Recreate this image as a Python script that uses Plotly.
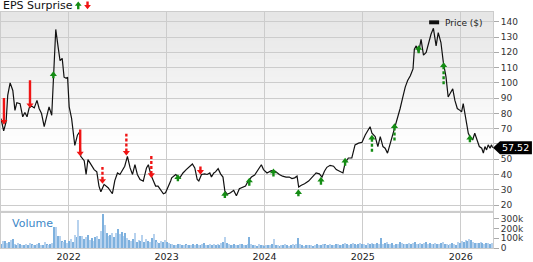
import plotly.graph_objects as go
import pandas as pd

# ---------------- data ----------------
price_dates = [
    "2021-04-24","2021-05-04","2021-05-13","2021-05-19","2021-05-28","2021-06-07","2021-06-15","2021-06-22",
    "2021-07-04","2021-07-14","2021-07-22","2021-07-30","2021-08-07","2021-08-16","2021-08-26","2021-09-05",
    "2021-09-13","2021-09-22","2021-10-02","2021-10-12","2021-10-20","2021-10-30","2021-11-06","2021-11-14",
    "2021-11-23","2021-11-30","2021-12-08","2021-12-15","2021-12-23","2021-12-28","2022-01-03","2022-01-12",
    "2022-01-24","2022-02-03","2022-02-12","2022-02-15","2022-02-28","2022-03-07","2022-03-14","2022-03-27",
    "2022-04-06","2022-04-16","2022-04-24","2022-05-01","2022-05-13","2022-05-28","2022-06-13","2022-06-22",
    "2022-07-02","2022-07-11","2022-07-20","2022-07-29","2022-08-08","2022-08-18","2022-08-27","2022-09-05",
    "2022-09-14","2022-09-24","2022-10-06","2022-10-18","2022-10-25","2022-11-03","2022-11-13","2022-11-21",
    "2022-11-30","2022-12-10","2022-12-20","2022-12-28","2023-01-06","2023-01-16","2023-01-20","2023-02-04",
    "2023-02-19","2023-03-03","2023-03-15","2023-03-28","2023-04-07","2023-04-16","2023-04-25","2023-05-01",
    "2023-05-11","2023-05-23","2023-06-01","2023-06-11","2023-06-17","2023-06-26","2023-07-02","2023-07-12",
    "2023-07-21","2023-07-30","2023-08-06","2023-08-15","2023-08-27","2023-09-08","2023-09-18","2023-09-29",
    "2023-10-11","2023-10-22","2023-11-01","2023-11-13","2023-11-25","2023-12-07","2023-12-20","2023-12-28",
    "2024-01-10","2024-01-26","2024-02-10","2024-02-25","2024-03-08","2024-03-21","2024-04-02","2024-04-12",
    "2024-04-22","2024-05-01","2024-05-07","2024-05-17","2024-05-29","2024-06-13","2024-06-26","2024-07-11",
    "2024-07-23","2024-08-02","2024-08-11","2024-08-20","2024-09-01","2024-09-14","2024-09-24","2024-10-06",
    "2024-10-19","2024-10-27","2024-11-08","2024-11-21","2024-12-03","2024-12-16","2024-12-29","2025-01-10",
    "2025-01-22","2025-01-28","2025-02-04","2025-02-16","2025-02-26","2025-03-07","2025-03-17","2025-03-25",
    "2025-04-03","2025-04-10","2025-04-19","2025-04-28","2025-05-08","2025-05-20","2025-05-30","2025-06-08",
    "2025-06-17","2025-06-27","2025-07-07","2025-07-12","2025-07-19","2025-07-28","2025-08-06","2025-08-15",
    "2025-08-25","2025-09-03","2025-09-12","2025-09-21","2025-10-01","2025-10-09","2025-10-19","2025-10-28",
    "2025-11-07","2025-11-15","2025-11-24","2025-12-02","2025-12-10","2025-12-19","2025-12-29","2026-01-04",
    "2026-01-10","2026-01-17","2026-01-23","2026-01-29","2026-02-04","2026-02-14","2026-02-22","2026-03-01",
    "2026-03-11","2026-03-20","2026-03-26","2026-04-01","2026-04-07","2026-04-13","2026-04-20","2026-04-25",
    "2026-04-30",
]
price_values = [
    76.6,68.5,74.5,91.8,100,95,82,87,
    86.4,77.8,80.6,77.8,83.6,84.9,83.6,88.5,
    83.2,79.9,71.3,78.8,84.3,78.8,102.6,135,
    123.2,114.5,116,103.7,103,103.7,84.3,76.7,
    59,65.9,68,51.9,49,40,49.7,46.4,
    43.2,41.7,32.4,28.7,33.5,31.3,27.4,36,
    41,40,42.5,45.4,51.9,44.3,40,46.4,
    40,36.7,35.7,44.3,46.4,40,35.7,32.4,
    32.4,29.6,27.4,28,31.3,35.7,37.8,40,
    37.8,41,43.2,45.4,46.9,44.3,36.7,35.7,
    40,40.4,40,41,38.4,41,41.7,43.8,
    40.4,38.3,29.1,27,28,29.6,26,30.7,
    31.8,32.4,35.7,38.3,39.6,43.2,46.4,43.2,
    41,42.5,42.1,40,38.9,38.3,38.3,37.3,
    37.8,38.9,31.8,33,33.9,35.7,38.3,41,
    40.4,38.3,42.1,44.7,46,45.4,43.2,42.1,
    41,47.5,50.8,50.8,59.4,60.5,61.1,65.9,
    69.1,71.3,67,64.8,58.3,64.8,58.3,57.2,
    54,58.3,63.7,70.2,76.7,83.2,90.7,97.2,
    101.5,104.7,109.1,122,124.2,119.9,128.5,118.2,
    119.9,126.4,131.8,135.7,124.2,132.9,126.4,113.4,
    103.7,90.7,94,96.1,88.5,83.2,82,81,
    86.4,79.9,72.3,67,64.8,62.6,67,63.7,
    58.3,57.2,54,58.3,56.1,59.4,57.2,59.4,
    57.52,
]
last_price = 57.52

volume_start = "2021-04-26"   # weekly bars
volume_k = [
    40,70,75,50,60,80,95,45,35,50,
    40,30,35,45,30,55,40,30,35,40,
    50,35,30,60,40,35,45,50,
    220,215,
    125,120,75,60,85,55,
    70,90,60,130,110,
    290,120,
    120,90,110,130,80,100,70,110,120,95,
    180,345,240,150,120,
    130,150,110,160,200,140,170,120,150,100,
    80,70,90,150,60,80,70,130,60,90,70,60,100,140,80,60,50,70,60,80,
    60,50,45,40,35,30,40,45,35,30,40,35,
    30,35,45,30,40,35,30,45,50,35,30,40,
    35,40,30,45,35,50,60,110,55,40,35,30,
    40,35,30,45,40,35,30,40,110,45,35,30,25,40,30,35,
    25,30,35,30,40,90,35,30,25,30,35,40,
    30,25,35,40,30,45,100,40,30,25,30,35,
    30,35,25,30,40,35,30,45,40,35,30,40,
    35,30,40,45,35,30,40,50,45,35,40,55,40,35,45,50,
    40,45,35,50,40,55,45,40,50,45,100,40,
    50,60,45,40,55,35,40,45,60,50,45,40,
    45,50,40,55,60,45,40,50,45,55,60,45,
    50,45,40,55,45,40,50,60,45,40,35,45,50,40,35,60,
    50,75,60,85,70,95,80,60,55,50,55,60,50,45,50,55,45,50,
]

eps_dates = ["2021-05-05","2021-08-10","2021-11-05","2022-02-13","2022-05-07","2022-08-04","2022-11-05",
             "2023-02-12","2023-05-07","2023-08-06","2023-11-05","2024-02-03","2024-05-06","2024-07-29",
             "2024-10-27","2025-02-04","2025-04-29","2025-07-28","2025-10-29","2026-02-04"]
eps_price = [72.7,83.6,107.5,52.0,34.0,52.5,37.8,
             40.0,40.0,29.1,37.8,43.8,30.2,38.4,
             50.8,65.9,73.4,124.6,113.4,65.9]
eps_surprise_pct = [-27,-28,7,-27,-17,-22,-23,
                    7,-8,7,8,8,7,8,
                    8,18,19,8,23,7.5]
eps_dashed = [False,False,False,False,True,True,True,
              False,False,False,False,False,False,False,
              False,True,True,False,True,False]

price_ticks = list(range(20, 141, 10))
vol_ticks = [0, 100000, 200000, 300000]
vol_tick_labels = ["0", "100k", "200k", "300k"]

# ---------------- layout geometry ----------------
W, H = 533, 262
ML, MR, MT, MB = 0, 40, 12, 10
PW, PH = W - ML - MR, H - MT - MB
price_dom = [0.1575, 1.0]
vol_dom = [0.0, 0.1488]
price_range = [16.2, 146.4]
vol_range = [0, 360000]
x_range = ["2021-04-24", "2026-05-01"]
ppp = (price_range[1] - price_range[0]) / ((price_dom[1] - price_dom[0]) * PH)  # price per pixel

def px2x(px):
    return (px - ML) / PW

def py2y(py):
    return (H - MB - py) / PH

FONT = "DejaVu Sans"
RED = "#f01414"
GREEN = "#148c14"
GRID = "#cccccc"

fig = go.Figure()

# price line
fig.add_trace(go.Scatter(x=price_dates, y=price_values, mode="lines",
                         line=dict(color="#111111", width=1.2), xaxis="x", yaxis="y",
                         hoverinfo="skip"))

# EPS surprise arrows
for d, p, pct, dashed in zip(eps_dates, eps_price, eps_surprise_pct, eps_dashed):
    s = 1 if pct > 0 else -1
    col = GREEN if s > 0 else RED
    L = max(7, abs(pct))
    fig.add_trace(go.Scatter(x=[d, d], y=[p - s * 4 * ppp, p - s * L * ppp], mode="lines",
                             line=dict(color=col, width=2.4, dash="3px,2px" if dashed else "solid"),
                             xaxis="x", yaxis="y", hoverinfo="skip"))
    fig.add_trace(go.Scatter(x=[d], y=[p - s * 3 * ppp], mode="markers",
                             marker=dict(symbol="triangle-up" if s > 0 else "triangle-down",
                                         size=6.2, color=col, line=dict(width=0)),
                             xaxis="x", yaxis="y", hoverinfo="skip"))

# volume bars
vol_dates = pd.date_range(volume_start, periods=len(volume_k), freq="7D")
vol_colors = ["#7eb1de" if i % 2 == 0 else "#b7d2ee" for i in range(len(volume_k))]
fig.add_trace(go.Bar(x=vol_dates, y=[v * 1000 for v in volume_k], marker=dict(color=vol_colors, line=dict(width=0)),
                     width=4.5 * 86400000, xaxis="x2", yaxis="y2", hoverinfo="skip"))

shapes = []
# background gradient in price panel
top_px, white_px, n = MT, 150, 23
step = (white_px - top_px) / n
for k in range(n):
    y0 = top_px + k * step
    shade = int(round(229 + (255 - 229) * (k + 0.5) / n))
    c = f"rgb({shade},{shade},{shade})"
    shapes.append(dict(type="rect", xref="paper", yref="paper", x0=0, x1=1,
                       y0=py2y(y0 + step + 0.5), y1=py2y(y0), fillcolor=c, line=dict(width=0), layer="below"))
# separator band between panels
shapes.append(dict(type="rect", xref="paper", yref="paper", x0=0, x1=1, y0=vol_dom[1], y1=price_dom[0],
                   fillcolor="#e2e2e2", line=dict(width=0), layer="below"))
# legend swatch
shapes.append(dict(type="rect", xref="paper", yref="paper", x0=px2x(429), x1=px2x(439),
                   y0=py2y(24.5), y1=py2y(20.5), fillcolor="#111111", line=dict(width=0)))
# title icons
def icon_up(x0, x1, ytop, ybot, color):
    xm = (x0 + x1) / 2
    yh = ytop + (ybot - ytop) * 0.55
    sw = 1.2
    pts = [(xm, ytop), (x1, yh), (xm + sw, yh), (xm + sw, ybot), (xm - sw, ybot), (xm - sw, yh), (x0, yh)]
    path = "M " + " L ".join(f"{px2x(a):.5f},{py2y(b):.5f}" for a, b in pts) + " Z"
    return dict(type="path", xref="paper", yref="paper", path=path, fillcolor=color, line=dict(width=0))
shapes.append(icon_up(74.0, 80.8, 1.2, 9.3, GREEN))
shapes.append(icon_up(83.3, 90.1, 9.3, 1.2, RED))
# last price pointer
h = 6.7 * ppp
pts = [(1.0, last_price), (px2x(500), last_price + h), (px2x(532), last_price + h),
       (px2x(532), last_price - h), (px2x(500), last_price - h)]
shapes.append(dict(type="path", xref="paper", yref="y",
                   path="M " + " L ".join(f"{a:.5f},{b:.4f}" for a, b in pts) + " Z",
                   fillcolor="#000000", line=dict(width=0), layer="above"))

annotations = [
    dict(text="EPS Surprise", x=px2x(0), y=py2y(5.2), xref="paper", yref="paper", xanchor="left",
         yanchor="middle", showarrow=False, font=dict(family=FONT, size=11, color="#111111")),
    dict(text="Price ($)", x=px2x(442.5), y=py2y(23), xref="paper", yref="paper", xanchor="left",
         yanchor="middle", showarrow=False, font=dict(family=FONT, size=9, color="#222222")),
    dict(text="Volume", x=px2x(9.5), y=py2y(227), xref="paper", yref="paper", xanchor="left",
         yanchor="middle", showarrow=False, font=dict(family=FONT, size=11, color="#3d87c7")),
    dict(text=f"{last_price:.2f}", x=px2x(515.5), y=last_price, xref="paper", yref="y", xanchor="center",
         yanchor="middle", showarrow=False, font=dict(family=FONT, size=9.5, color="#ffffff")),
]

# the last-price marker hides the tick label it covers
price_tick_text = ["" if abs(t - last_price) < 5 else str(t) for t in price_ticks]

tickfont = dict(family=FONT, size=9, color="#333333")
fig.update_layout(
    width=W, height=H, margin=dict(l=ML, r=MR, t=MT, b=MB, pad=0),
    paper_bgcolor="white", plot_bgcolor="rgba(0,0,0,0)", showlegend=False,
    shapes=shapes, annotations=annotations, bargap=0,
    xaxis=dict(domain=[0, 1], anchor="y", range=x_range, type="date", showticklabels=False,
               showgrid=True, gridcolor=GRID, gridwidth=1, tick0="2022-01-01", dtick="M12", ticks="",
               showline=True, mirror=True, linecolor=GRID, linewidth=1, zeroline=False),
    yaxis=dict(domain=price_dom, anchor="x", side="right", range=price_range,
               tickvals=price_ticks, ticktext=price_tick_text, showgrid=True, gridcolor=GRID, gridwidth=1,
               ticks="outside", ticklen=5, tickcolor="#aaaaaa", tickfont=tickfont,
               showline=True, mirror=True, linecolor=GRID, linewidth=1, zeroline=False),
    xaxis2=dict(domain=[0, 1], anchor="y2", range=x_range, type="date", tickformat="%Y",
                showgrid=True, gridcolor=GRID, gridwidth=1, tick0="2022-01-01", dtick="M12", ticks="",
                tickfont=dict(family=FONT, size=9.5, color="#222222"),
                showline=True, mirror=True, linecolor=GRID, linewidth=1, zeroline=False),
    yaxis2=dict(domain=vol_dom, anchor="x2", side="right", range=vol_range,
                tickvals=vol_ticks, ticktext=vol_tick_labels,
                showgrid=False, ticks="outside", ticklen=5, tickcolor="#aaaaaa", tickfont=tickfont,
                showline=True, mirror=True, linecolor=GRID, linewidth=1, zeroline=False),
)

fig.write_html("out.html")
